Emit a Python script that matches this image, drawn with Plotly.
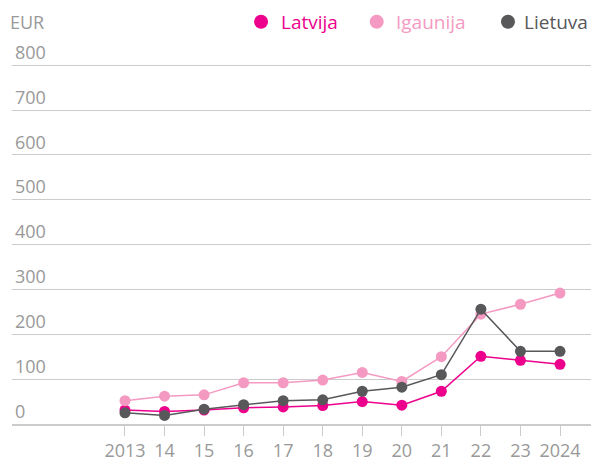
import plotly.graph_objects as go

years = list(range(2013, 2025))
tick_labels = ["2013", "14", "15", "16", "17", "18", "19", "20", "21", "22", "23", "2024"]
latvija = [31, 28, 31, 36, 38, 41, 50, 42, 73, 151, 142, 133]
igaunija = [52, 62, 65, 92, 92, 98, 115, 95, 150, 245, 267, 292]
lietuva = [25, 19, 33, 43, 52, 54, 73, 82, 110, 256, 162, 162]
y_ticks = [0, 100, 200, 300, 400, 500, 600, 700, 800]

series = [
    ("Latvija", latvija, "#ec008c"),
    ("Igaunija", igaunija, "#f49ac2"),
    ("Lietuva", lietuva, "#58585a"),
]
# legend placement (paper x of dot centre, paper x of text, text anchor)
legend_pos = [(0.4301, 0.4611, "left"), (0.6299, 0.6592, "left"), (0.8566, 0.9983, "right")]
LEGEND_Y = 1.0261

FONT = "Open Sans"
fig = go.Figure()
for name, vals, col in series:
    fig.add_trace(go.Scatter(
        x=years, y=vals, mode="lines+markers", name=name,
        line=dict(color=col, width=1.5),
        marker=dict(color=col, size=11),
        showlegend=False,
    ))

# page body has an 8px margin, so the figure is sized to fit inside it
fig.update_layout(
    width=583, height=454,
    margin=dict(l=4, r=0, t=24, b=35),
    paper_bgcolor="white", plot_bgcolor="white",
    font=dict(family=FONT, color="#999999", size=18),
    showlegend=False,
    xaxis=dict(
        range=[2010.143, 2024.784], tickvals=years, ticktext=tick_labels,
        showgrid=False, zeroline=False, showline=True, linecolor="#cccccc", linewidth=1.5,
        ticks="outside", ticklen=10, tickcolor="#cccccc", tickwidth=1,
        tickfont=dict(size=18, color="#999999", family=FONT),
    ),
    yaxis=dict(
        range=[0, 874.1], tickvals=y_ticks, ticktext=[str(v) for v in y_ticks],
        showgrid=True, gridcolor="#cccccc", gridwidth=1, zeroline=False,
        ticklabelposition="inside top", ticks="", ticklen=0,
        tickfont=dict(size=18, color="#999999", family=FONT),
    ),
)

for (name, vals, col), (dx, tx, anc) in zip(series, legend_pos):
    fig.add_shape(type="circle", xref="paper", yref="paper",
                  xsizemode="pixel", ysizemode="pixel",
                  xanchor=dx, yanchor=LEGEND_Y, x0=-7, x1=7, y0=-7, y1=7,
                  fillcolor=col, line=dict(width=0))
    fig.add_annotation(text=name, xref="paper", yref="paper", x=tx, y=LEGEND_Y,
                       xanchor=anc, yanchor="middle", showarrow=False,
                       font=dict(size=19, color=col, family=FONT))

fig.add_annotation(text="EUR", xref="paper", yref="paper", x=-0.0069, y=LEGEND_Y,
                   xanchor="left", yanchor="middle", showarrow=False,
                   font=dict(size=18, color="#999999", family=FONT))

fig.write_html("out.html")
